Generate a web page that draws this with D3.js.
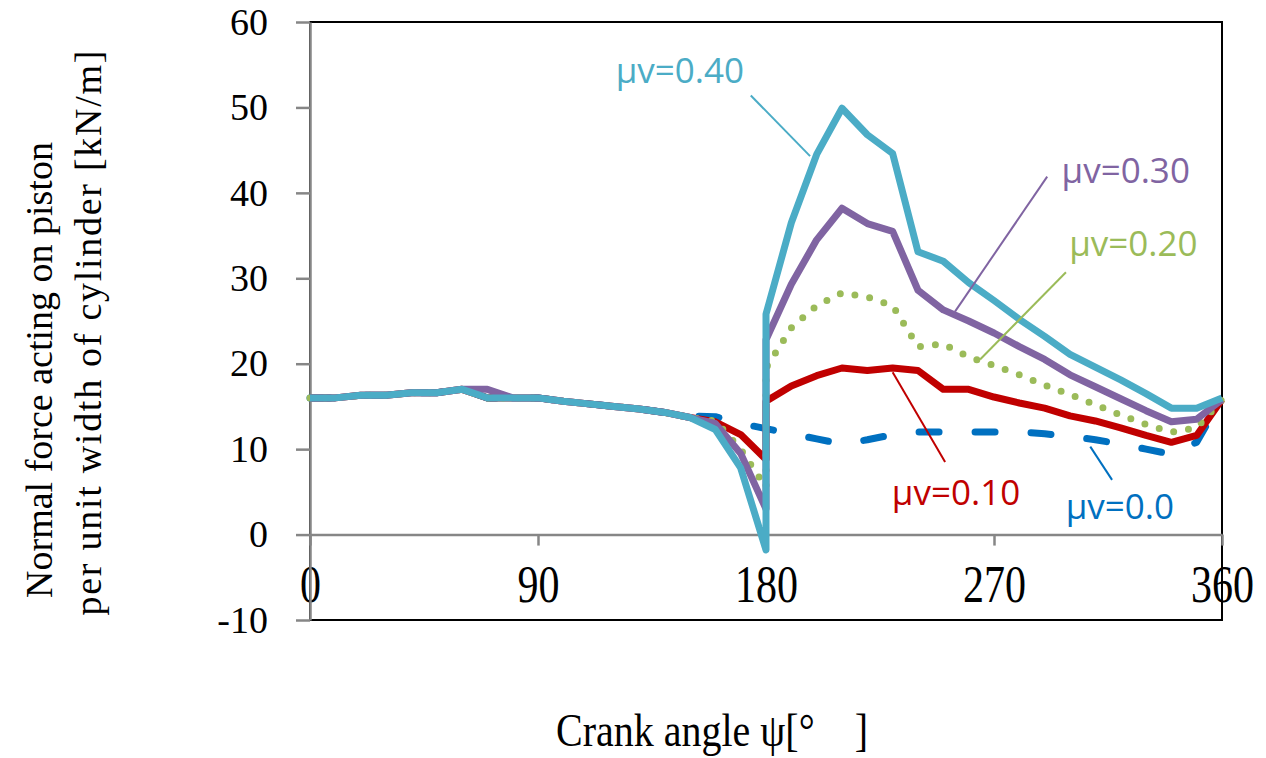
<!DOCTYPE html>
<html>
<head>
<meta charset="utf-8">
<script src="https://cdn.jsdelivr.net/npm/d3@7"></script>
<style>
  body { margin: 0; background: #ffffff; }
  text { white-space: pre; }
</style>
</head>
<body>
<svg id="chart" width="1266" height="758"></svg>
<script>
// Crank angle samples (deg); 180 appears twice for the jump at top dead centre
const angles = [0,10,20,30,40,50,60,70,80,90,100,110,120,130,140,150,160,170,180,180,
                190,200,210,220,230,240,250,260,270,280,290,300,310,320,330,340,350,360];

// Normal force per unit cylinder width [kN/m] for each friction coefficient
const mu000 = [16.0,16.0,16.3,16.3,16.6,16.6,17.0,16.0,16.0,16.0,15.6,15.3,15.0,14.7,14.3,13.9,13.8,13.0,12.4,12.4,
               11.8,11.2,10.6,11.1,11.7,12.0,12.0,12.0,12.0,12.0,11.8,11.5,11.1,10.6,10.0,9.4,10.8,16.0];
const mu010 = [16.0,16.0,16.3,16.3,16.6,16.6,17.0,16.0,16.0,16.0,15.6,15.3,15.0,14.7,14.3,13.7,13.2,11.7,8.8,15.6,
               17.4,18.6,19.5,19.2,19.5,19.2,17.0,17.0,16.1,15.4,14.8,13.9,13.3,12.5,11.6,10.8,11.6,15.8];
const mu020 = [16.0,16.0,16.3,16.3,16.6,16.6,17.0,16.0,16.0,16.0,15.6,15.3,15.0,14.7,14.3,13.7,13.3,10.0,5.5,19.5,
               24.2,26.8,28.3,27.8,26.8,22.0,22.3,20.8,19.8,18.7,17.5,16.4,15.2,14.0,12.9,12.0,12.5,15.8];
const mu030 = [16.0,16.0,16.3,16.3,16.6,16.6,17.0,17.0,16.0,16.0,15.6,15.3,15.0,14.7,14.3,13.7,13.0,9.5,3.0,22.8,
               29.3,34.5,38.2,36.4,35.5,28.6,26.3,25.0,23.6,22.0,20.5,18.7,17.3,15.9,14.5,13.2,13.5,15.8];
const mu040 = [16.0,16.0,16.3,16.3,16.6,16.6,17.0,16.0,16.0,16.0,15.6,15.3,15.0,14.7,14.3,13.7,12.3,7.8,-1.8,25.8,
               36.5,44.5,49.9,46.8,44.6,33.1,32.0,29.5,27.4,25.2,23.2,21.1,19.6,18.1,16.5,14.8,14.8,16.0];

const xTicks = [0, 90, 180, 270, 360];
const yTicks = [-10, 0, 10, 20, 30, 40, 50, 60];

// Series styling and callout placement (label centre and leader line, in data units)
const series = [
  { name: "\u03bcv=0.0",  values: mu000, color: "#0070C0", dash: "20,36", label: [319.7, 3.4],  leader: [[308, 10.3], [316.6, 6.4]] },
  { name: "\u03bcv=0.10", values: mu010, color: "#C00000", dash: null,    label: [255, 5.0],    leader: [[230, 19.0], [250.7, 8.5]] },
  { name: "\u03bcv=0.20", values: mu020, color: "#9BBB59", dash: "0,15",  label: [325, 34.2],   leader: [[264.5, 20.5], [298.4, 30.7]] },
  { name: "\u03bcv=0.30", values: mu030, color: "#8064A2", dash: null,    label: [322, 42.7],   leader: [[254.6, 26.1], [291, 41.9]] },
  { name: "\u03bcv=0.40", values: mu040, color: "#4BACC6", dash: null,    label: [146, 54.4],   leader: [[197.4, 44.3], [174, 51.4]] }
];

const svg = d3.select("#chart");
const x = d3.scaleLinear().domain([0, 360]).range([310, 1222]);
const y = d3.scaleLinear().domain([-10, 60]).range([620, 22]);

const serif = "'Liberation Serif', 'Times New Roman', serif";
const sans = "'Open Sans', 'Noto Sans', sans-serif";
const axisGrey = "#868686";

// Plot frame
svg.append("rect")
  .attr("x", x(0)).attr("y", y(60))
  .attr("width", x(360) - x(0)).attr("height", y(-10) - y(60))
  .attr("fill", "none").attr("stroke", "#000").attr("stroke-width", 2);

// Horizontal axis sitting on zero
const gx = svg.append("g")
  .attr("transform", `translate(0,${y(0)})`)
  .call(d3.axisBottom(x).tickValues(xTicks).tickSize(11).tickSizeOuter(0).tickFormat(d => String(d)));
gx.select(".domain").attr("stroke", axisGrey).attr("stroke-width", 2.5);
gx.selectAll(".tick line").attr("stroke", axisGrey).attr("stroke-width", 2.5);
gx.selectAll(".tick text")
  .attr("y", null).attr("dy", null)
  .attr("transform", "translate(0,67) scale(1,1.25)")
  .attr("fill", "#000")
  .style("font-family", serif).style("font-size", "42px");

// Vertical axis
const gy = svg.append("g")
  .attr("transform", `translate(${x(0)},0)`)
  .call(d3.axisLeft(y).tickValues(yTicks).tickSize(14).tickSizeOuter(0).tickPadding(28).tickFormat(d => String(d)));
gy.select(".domain").attr("stroke", axisGrey).attr("stroke-width", 2.5);
gy.selectAll(".tick line").attr("stroke", axisGrey).attr("stroke-width", 2.5);
gy.selectAll(".tick text")
  .attr("fill", "#000")
  .style("font-family", serif).style("font-size", "38px");

// Curves
const line = d3.line()
  .x((d, i) => x(angles[i]))
  .y(d => y(d));

svg.append("g").selectAll("path")
  .data(series)
  .join("path")
  .attr("d", s => line(s.values))
  .attr("fill", "none")
  .attr("stroke", s => s.color)
  .attr("stroke-width", 7)
  .attr("stroke-linejoin", "round")
  .attr("stroke-linecap", s => s.dash ? "round" : "butt")
  .attr("stroke-dasharray", s => s.dash);

// Callout leaders
svg.append("g").selectAll("line")
  .data(series)
  .join("line")
  .attr("x1", s => x(s.leader[0][0])).attr("y1", s => y(s.leader[0][1]))
  .attr("x2", s => x(s.leader[1][0])).attr("y2", s => y(s.leader[1][1]))
  .attr("stroke", s => s.color)
  .attr("stroke-width", 2);

// Callout labels
svg.append("g").selectAll("text")
  .data(series)
  .join("text")
  .attr("x", s => x(s.label[0]))
  .attr("y", s => y(s.label[1]))
  .attr("text-anchor", "middle")
  .attr("dominant-baseline", "central")
  .attr("fill", s => s.color)
  .style("font-family", sans).style("font-size", "35px")
  .text(s => s.name);

// Axis titles
svg.append("text")
  .attr("transform", "translate(712,746) scale(1,1.18)")
  .attr("text-anchor", "middle")
  .attr("fill", "#000")
  .style("font-family", serif).style("font-size", "40px")
  .text("Crank angle \u03c8[\u00b0\u2003]");

const yTitle = svg.append("g").style("font-family", serif).style("font-size", "38px").attr("fill", "#000");
yTitle.append("text")
  .attr("transform", "translate(52,370) rotate(-90)")
  .attr("text-anchor", "middle")
  .text("Normal force acting on piston");
yTitle.append("text")
  .attr("transform", "translate(101,333) rotate(-90)")
  .attr("text-anchor", "middle")
  .attr("textLength", 565)
  .attr("lengthAdjust", "spacing")
  .text("per unit width of cylinder [kN/m]");
</script>
</body>
</html>
